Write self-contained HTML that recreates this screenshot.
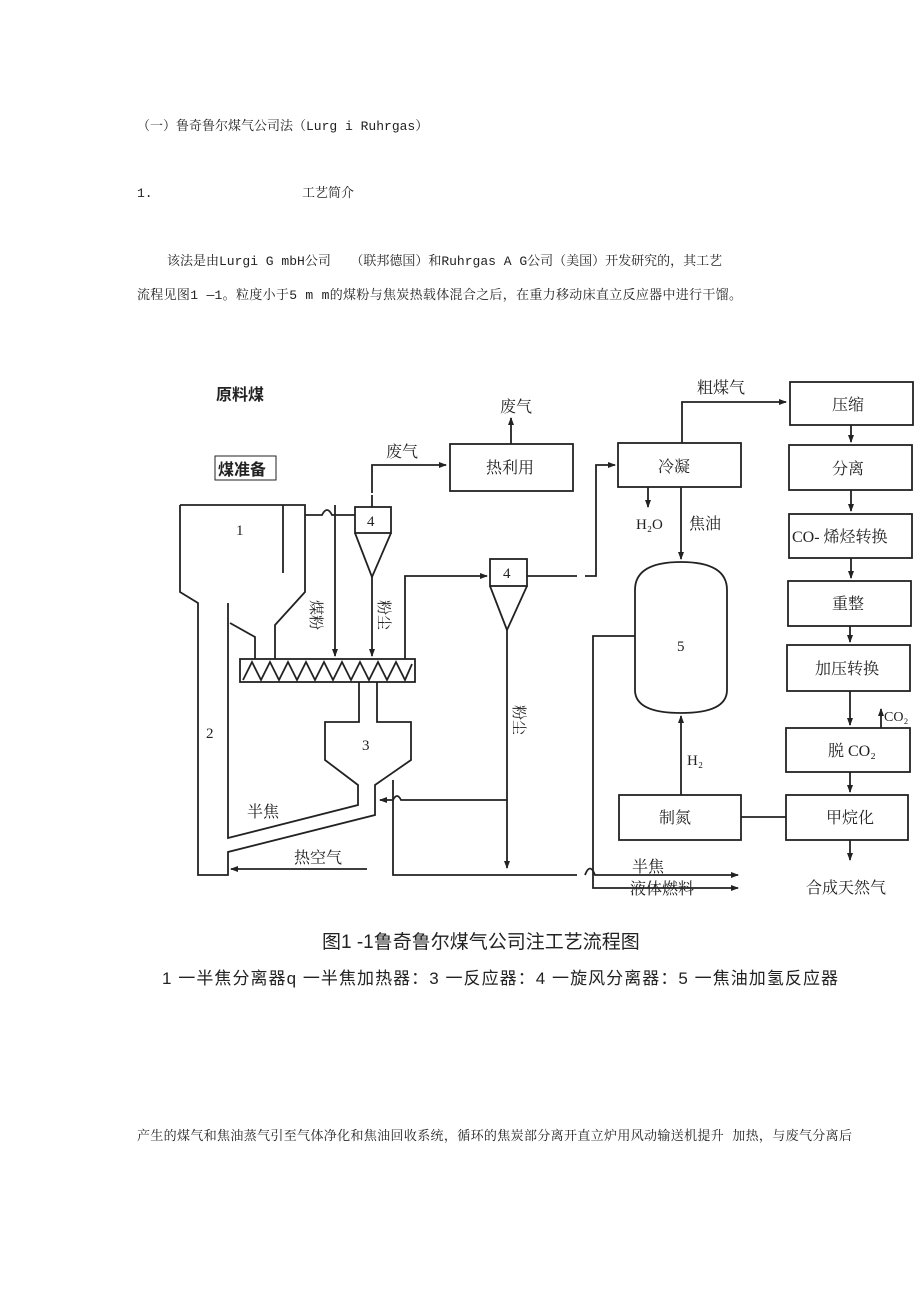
<!DOCTYPE html>
<html><head><meta charset="utf-8"><style>
html,body{margin:0;padding:0;background:#fff;}
svg{display:block;}
text{font-family:"Liberation Serif","Noto Serif CJK SC","Noto Sans CJK SC",serif;fill:#222;}
.s{font-family:"Liberation Sans","Noto Sans CJK SC",sans-serif;}
.m{font-family:"Liberation Mono","Noto Serif CJK SC",monospace;}
</style></head><body>
<svg width="920" height="1302" viewBox="0 0 920 1302" xmlns="http://www.w3.org/2000/svg">
<defs><marker id="a" markerWidth="8" markerHeight="6" refX="7" refY="3" orient="auto" markerUnits="userSpaceOnUse"><path d="M0,0 L8,3 L0,6 z" fill="#222"/></marker></defs>
<g font-size="13" class="m">
<text class="m" x="137" y="130">（一）鲁奇鲁尔煤气公司法（Lurg i Ruhrgas）</text>
<text class="m" x="137" y="197">1.</text>
<text class="m" x="302" y="197">工艺简介</text>
<text class="m" x="167" y="265">该法是由Lurgi G mbH公司　　（联邦德国）和Ruhrgas A G公司（美国）开发研究的，其工艺</text>
<text class="m" x="137" y="299" textLength="605">流程见图1 —1。粒度小于5 m m的煤粉与焦炭热载体混合之后，在重力移动床直立反应器中进行干馏。</text>
<text class="m" x="137" y="1140" textLength="715">产生的煤气和焦油蒸气引至气体净化和焦油回收系统，循环的焦炭部分离开直立炉用风动输送机提升 加热，与废气分离后</text>
</g>
<g class="s">
<text x="322" y="948" font-size="19" class="s" fill="#444">图1 -1鲁奇鲁尔煤气公司注工艺流程图</text>
<text x="162" y="984" font-size="17" class="s" textLength="676">1 一半焦分离器q 一半焦加热器：3 一反应器：4 一旋风分离器：5 一焦油加氢反应器</text>
</g>
<g fill="none" stroke="#222" stroke-width="1.8">
<rect x="450" y="444" width="123" height="47"/>
<rect x="618" y="443" width="123" height="44"/>
<rect x="790" y="382" width="123" height="43"/>
<rect x="789" y="445" width="123" height="45"/>
<rect x="789" y="514" width="123" height="44"/>
<rect x="788" y="581" width="123" height="45"/>
<rect x="787" y="645" width="123" height="46"/>
<rect x="786" y="728" width="124" height="44"/>
<rect x="786" y="795" width="122" height="45"/>
<rect x="619" y="795" width="122" height="45"/>
<rect x="215" y="456" width="61" height="24" stroke-width="1"/>
<path d="M635,590 Q635,562 681,562 Q727,562 727,590 L727,690 Q727,713 681,713 Q635,713 635,690 Z"/>
<path d="M180,505 L305,505 L305,592 L275,625 L275,659"/>
<path d="M180,505 L180,592 L198,603 L198,875 L228,875 L228,852 L375,815 L375,785 L411,760 L411,722 L377,722 L377,682"/>
<path d="M228,603 L228,838 L358,805 L358,785 L325,760 L325,722 L359,722 L359,682"/>
<path d="M230,623 L255,637 L255,659"/>
<path d="M283,505 L283,573"/>
<rect x="240" y="659" width="175" height="23"/>
<path d="M243,680 L252,662 L261,680 L270,662 L279,680 L288,662 L297,680 L306,662 L315,680 L324,662 L333,680 L342,662 L351,680 L360,662 L369,680 L378,662 L387,680 L396,662 L405,680 L412,664"/>
<rect x="355" y="507" width="36" height="26"/>
<path d="M355,533 L372,577 L391,533"/>
<path d="M305,515 L322,515 Q327,505 332,515 L355,515"/>
<path d="M372,507 L372,495" />
<path d="M372,493 L372,465 L446,465" marker-end="url(#a)"/>
<path d="M511,444 L511,418" marker-end="url(#a)"/>
<path d="M335,505 L335,656" marker-end="url(#a)"/>
<path d="M372,577 L372,656" marker-end="url(#a)"/>
<rect x="490" y="559" width="37" height="27"/>
<path d="M490,586 L507,630 L527,586"/>
<path d="M405,659 L405,576 L487,576" marker-end="url(#a)"/>
<path d="M527,576 L577,576"/>
<path d="M585,576 L596,576 L596,465 L615,465" marker-end="url(#a)"/>
<path d="M507,630 L507,868" marker-end="url(#a)"/>
<path d="M507,800 L401,800 Q397,792 393,800 L380,800" marker-end="url(#a)"/>
<path d="M393,780 L393,875 L577,875"/>
<path d="M367,869 L231,869" marker-end="url(#a)"/>
<path d="M585,875 Q590,862 595,875 L738,875" marker-end="url(#a)"/>
<path d="M635,636 L593,636 L593,888 L738,888" marker-end="url(#a)"/>
<path d="M682,443 L682,402 L786,402" marker-end="url(#a)"/>
<path d="M648,487 L648,507" marker-end="url(#a)"/>
<path d="M681,487 L681,559" marker-end="url(#a)"/>
<path d="M681,795 L681,716" marker-end="url(#a)"/>
<path d="M741,817 L786,817"/>
<path d="M851,425 L851,442" marker-end="url(#a)"/>
<path d="M851,490 L851,511" marker-end="url(#a)"/>
<path d="M851,558 L851,578" marker-end="url(#a)"/>
<path d="M850,626 L850,642" marker-end="url(#a)"/>
<path d="M850,691 L850,725" marker-end="url(#a)"/>
<path d="M881,728 L881,709" marker-end="url(#a)"/>
<path d="M850,772 L850,792" marker-end="url(#a)"/>
<path d="M850,840 L850,860" marker-end="url(#a)"/>
</g>
<g font-size="16" class="s">
<text x="216" y="400" font-weight="bold" font-size="16" class="s">原料煤</text>
<text x="218" y="475" font-weight="bold" font-size="16" class="s">煤准备</text>
<text x="500" y="412" font-size="16">废气</text>
<text x="386" y="457" font-size="16">废气</text>
<text x="486" y="473" font-size="16">热利用</text>
<text x="697" y="393" font-size="16">粗煤气</text>
<text x="658" y="472" font-size="16">冷凝</text>
<text x="832" y="410" font-size="16">压缩</text>
<text x="832" y="474" font-size="16">分离</text>
<text x="792" y="542" font-size="16">CO- 烯烃转换</text>
<text x="832" y="609" font-size="16">重整</text>
<text x="815" y="674" font-size="16">加压转换</text>
<text x="828" y="756" font-size="16">脱 CO₂</text>
<text x="884" y="721" font-size="14">CO₂</text>
<text x="826" y="823" font-size="16">甲烷化</text>
<text x="659" y="823" font-size="16">制氮</text>
<text x="636" y="529" font-size="15">H₂O</text>
<text x="689" y="529" font-size="16">焦油</text>
<text x="687" y="765" font-size="15">H₂</text>
<text x="632" y="872" font-size="16">半焦</text>
<text x="630" y="894" font-size="16">液体燃料</text>
<text x="806" y="893" font-size="16">合成天然气</text>
<text x="247" y="817" font-size="16">半焦</text>
<text x="294" y="863" font-size="16">热空气</text>
<text x="236" y="535" font-size="15">1</text>
<text x="206" y="738" font-size="15">2</text>
<text x="362" y="750" font-size="15">3</text>
<text x="367" y="526" font-size="15">4</text>
<text x="503" y="578" font-size="15">4</text>
<text x="677" y="651" font-size="15">5</text>
<text transform="translate(311,600) rotate(90)" font-size="15">煤粉</text>
<text transform="translate(379,600) rotate(90)" font-size="15">粉尘</text>
<text transform="translate(514,705) rotate(90)" font-size="15">粉尘</text>
</g>
</svg>
</body></html>
